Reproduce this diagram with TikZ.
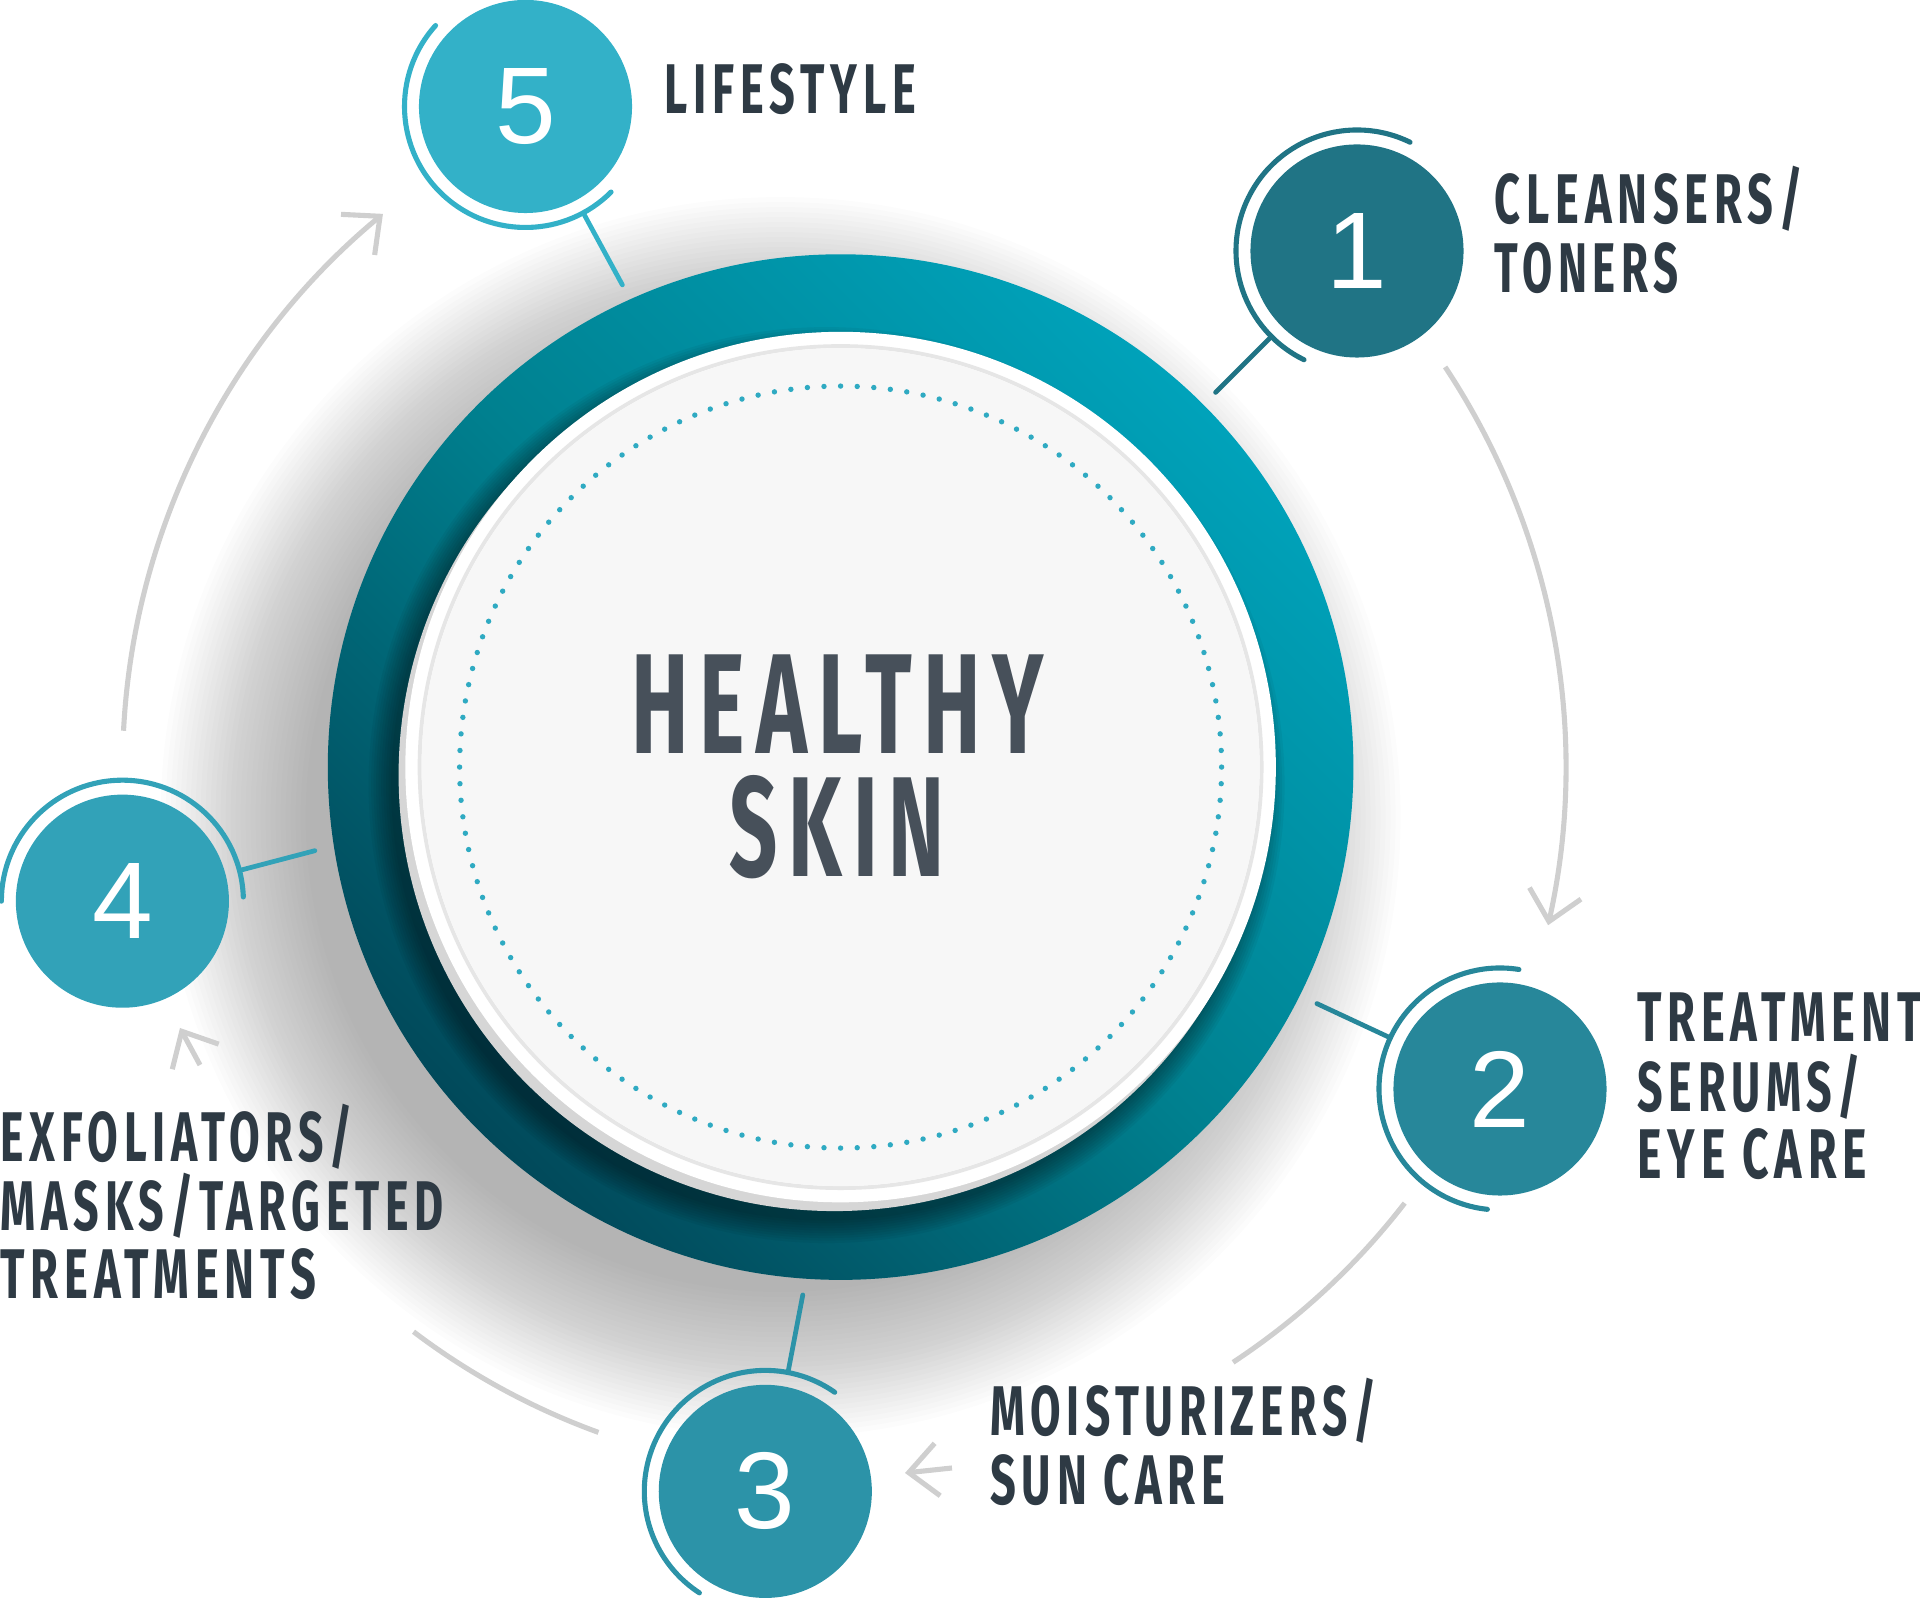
\documentclass[tikz,border=0pt]{standalone}
\usepackage{fontspec}
\usepackage{graphicx}
\usetikzlibrary{calc,arrows.meta}
\newfontfamily\bebas{Fira Sans}[FakeStretch=0.62, LetterSpace=8]
\newfontfamily\numfont{Liberation Sans}
\definecolor{txt}{HTML}{2E3A44}
\definecolor{cA}{HTML}{207485}
\definecolor{cB}{HTML}{27879A}
\definecolor{cC}{HTML}{2C93A8}
\definecolor{cD}{HTML}{32A2B8}
\definecolor{cE}{HTML}{33B1C8}
\definecolor{ringlight}{HTML}{00A2BA}
\definecolor{ringmid}{HTML}{00808F}
\definecolor{ringdark}{HTML}{01495A}
\definecolor{arcgray}{HTML}{CFCFCF}
\definecolor{dotc}{HTML}{2FAAC2}
\definecolor{discin}{HTML}{F7F7F7}
\definecolor{discline}{HTML}{E6E6E6}
\definecolor{bevel}{HTML}{D6D6D6}
\definecolor{htxt}{HTML}{47505A}
\newcommand\fitw[2]{\resizebox{#1}{\height}{#2}}
\tikzset{
  lbl/.style={anchor=base west, inner sep=0pt, text=txt,
    font=\bebas\bfseries\fontsize{20}{20}\selectfont},
  bigtxt/.style={inner sep=0pt, text=htxt, align=center,
    font=\bebas\bfseries\fontsize{40.5}{35}\selectfont},
  stepcirc/.style={circle, minimum size=21.3mm, inner sep=0pt, text=white,
    font=\numfont\fontsize{31}{31}\selectfont},
  ringarc/.style={line width=1.45pt, line cap=round},
  conn/.style={line width=1.35pt, line cap=round},
  cyc/.style={draw=arcgray, line width=1.45pt},
  tipped/.style={-{Straight Barb[length=8.2pt,width=15pt]}},
}
\begin{document}
\begin{tikzpicture}[x=0.01cm, y=0.01cm]
\useasboundingbox (0,0) rectangle (1920,1600);
\coordinate (M) at (840.6,832.9);
% soft drop shadow of the main ring
\foreach \i in {0,...,29}
  \fill[black, opacity=0.012] ($(M)+(-60,-50)$) circle ({620-5*\i});
% grey cycle arrows
\draw[cyc, tipped] ($(M)+(33.5:725)$) arc[start angle=33.5, end angle=-12.6, radius=725];
\draw[cyc] ($(M)+(-37.7:713)$) arc[start angle=-37.7, end angle=-56.6, radius=713];
\coordinate (t3a) at (952,132);
\coordinate (t3b) at (905,127);
\draw[cyc, tipped] (t3a) -- (t3b);
\draw[cyc] ($(M)+(-110:708)$) arc[start angle=-110, end angle=-127.1, radius=708];
\coordinate (t4a) at (200,535);
\coordinate (t4b) at (180,572);
\draw[cyc, tipped] (t4a) -- (t4b);
\draw[cyc, tipped] ($(M)+(177.1:718)$) arc[start angle=177.1, end angle=129.6, radius=718];
% main ring
\node[circle, minimum size=102.5mm, inner sep=0pt, top color=ringlight, bottom color=ringdark,
  middle color=ringmid, shading angle=-45] (main) at (M) {};
\foreach \i in {0,...,9}
  \fill[black, opacity=0.045] ($(M)+(-14,-18)$) circle ({458-2.5*\i});
% white disc
\fill[bevel] ($(M)+(-6,-8)$) circle (436);
\node[circle, minimum size=87mm, inner sep=0pt, fill=white] (disc) at (M) {};
\draw[discline, line width=1.1pt] (M) circle (421);
\fill[discin] (M) circle (419);
\foreach \a in {0,2.5,...,357.5}
  \fill[dotc] ($(M)+(\a:381)$) circle (2.7);
% central title
\node[bigtxt] (title) at (837.3,833.3) {\fitw{41.2mm}{HEALTHY}\\\fitw{21.5mm}{SKIN}};
% step circles
\node[stepcirc, fill=cA] (c1) at (1357,1349) {1};
\node[stepcirc, fill=cB] (c2) at (1500,511) {2};
\node[stepcirc, fill=cC] (c3) at (765.3,108.6) {3};
\node[stepcirc, fill=cD] (c4) at (122.4,698.8) {4};
\node[stepcirc, fill=cE] (c5) at (525.5,1493.5) {5};
% outer arcs
\draw[ringarc, cA] ($(c1)+(64:121)$) arc[start angle=64, end angle=244, radius=121];
\draw[ringarc, cB] ($(c2)+(81:121)$) arc[start angle=81, end angle=264, radius=121];
\draw[ringarc, cC] ($(c3)+(55:121)$) arc[start angle=55, end angle=237, radius=121];
\draw[ringarc, cD] ($(c4)+(2:121)$) arc[start angle=2, end angle=180, radius=121];
\draw[ringarc, cE] ($(c5)+(138:121)$) arc[start angle=138, end angle=315, radius=121];
% connectors to the ring
\coordinate (k1) at ($(c1)+(225:200)$);
\coordinate (k2) at ($(c2)+(155:202)$);
\coordinate (k3) at ($(c3)+(79.2:200)$);
\coordinate (k4) at ($(c4)+(14.7:199)$);
\coordinate (k5) at ($(c5)+(298.5:203)$);
\draw[conn, cA] ($(c1)+(225:123)$) -- (k1);
\draw[conn, cB] ($(c2)+(155:121)$) -- (k2);
\draw[conn, cC] ($(c3)+(79.2:123)$) -- (k3);
\draw[conn, cD] ($(c4)+(14.7:123)$) -- (k4);
\draw[conn, cE] ($(c5)+(298.5:123)$) -- (k5);
% labels
\node[lbl] (l5) at (664,1486.7) {\fitw{25.1mm}{LIFESTYLE}};
\node[lbl] (l1a) at (1494,1376.5) {\fitw{30.8mm}{CLEANSERS/}};
\node[lbl] (l1b) at (1494,1307.7) {\fitw{18.4mm}{TONERS}};
\node[lbl] (l2a) at (1636.7,558.7) {\fitw{28.4mm}{TREATMENT}};
\node[lbl] (l2b) at (1636.7,488.8) {\fitw{22.35mm}{SERUMS/}};
\node[lbl] (l2c) at (1636.7,421) {\fitw{22.96mm}{EYE CARE}};
\node[lbl] (l3a) at (989.4,164.8) {\fitw{38.6mm}{MOISTURIZERS/}};
\node[lbl] (l3b) at (989.4,95.9) {\fitw{23.5mm}{SUN CARE}};
\node[lbl] (l4a) at (0,438) {\fitw{35.2mm}{EXFOLIATORS/}};
\node[lbl] (l4b) at (0,369) {\fitw{44.3mm}{MASKS/TARGETED}};
\node[lbl] (l4c) at (0,301) {\fitw{31.5mm}{TREATMENTS}};
\end{tikzpicture}
\end{document}
